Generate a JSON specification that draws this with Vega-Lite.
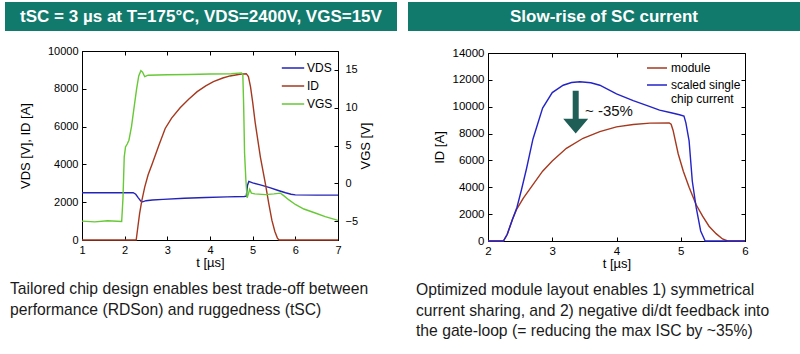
{
  "$schema": "https://vega.github.io/schema/vega-lite/v6.json",
  "background": "white",
  "padding": {"left": 5, "top": 2, "right": 0, "bottom": 0},
  "config": {
    "font": "Liberation Sans",
    "view": {"stroke": "#000", "strokeWidth": 1},
    "axis": {"grid": false, "domainColor": "#000", "tickColor": "#000", "labelColor": "#000", "titleColor": "#000", "titleFontWeight": "normal", "labelFlush": false, "tickSize": -4, "labelPadding": 8, "labelFontSize": 11, "titleFontSize": 13},
    "legend": {"labelColor": "#000"}
  },
  "datasets": {
    "left1": [
      {"t":1.0,"v":2500,"s":"VDS"},{"t":2.2,"v":2500,"s":"VDS"},{"t":2.26,"v":2420,"s":"VDS"},{"t":2.32,"v":2230,"s":"VDS"},{"t":2.38,"v":2060,"s":"VDS"},{"t":2.42,"v":2020,"s":"VDS"},{"t":2.5,"v":2080,"s":"VDS"},{"t":2.65,"v":2120,"s":"VDS"},{"t":2.9,"v":2150,"s":"VDS"},{"t":3.4,"v":2210,"s":"VDS"},{"t":3.9,"v":2250,"s":"VDS"},{"t":4.4,"v":2280,"s":"VDS"},{"t":4.8,"v":2300,"s":"VDS"},{"t":4.85,"v":2320,"s":"VDS"},{"t":4.88,"v":2900,"s":"VDS"},{"t":4.91,"v":3100,"s":"VDS"},{"t":5.0,"v":3020,"s":"VDS"},{"t":5.2,"v":2900,"s":"VDS"},{"t":5.4,"v":2770,"s":"VDS"},{"t":5.6,"v":2620,"s":"VDS"},{"t":5.77,"v":2500,"s":"VDS"},{"t":5.9,"v":2420,"s":"VDS"},{"t":6.0,"v":2385,"s":"VDS"},{"t":6.5,"v":2375,"s":"VDS"},{"t":7.0,"v":2375,"s":"VDS"},
      {"t":1.0,"v":0,"s":"ID"},{"t":2.27,"v":0,"s":"ID"},{"t":2.31,"v":700,"s":"ID"},{"t":2.35,"v":1400,"s":"ID"},{"t":2.4,"v":2060,"s":"ID"},{"t":2.47,"v":2800,"s":"ID"},{"t":2.55,"v":3450,"s":"ID"},{"t":2.64,"v":4000,"s":"ID"},{"t":2.8,"v":5000,"s":"ID"},{"t":2.95,"v":5900,"s":"ID"},{"t":3.1,"v":6450,"s":"ID"},{"t":3.3,"v":7000,"s":"ID"},{"t":3.5,"v":7450,"s":"ID"},{"t":3.7,"v":7850,"s":"ID"},{"t":3.9,"v":8150,"s":"ID"},{"t":4.08,"v":8380,"s":"ID"},{"t":4.3,"v":8570,"s":"ID"},{"t":4.47,"v":8680,"s":"ID"},{"t":4.7,"v":8770,"s":"ID"},{"t":4.85,"v":8800,"s":"ID"},{"t":4.9,"v":8650,"s":"ID"},{"t":4.95,"v":8100,"s":"ID"},{"t":5.0,"v":7300,"s":"ID"},{"t":5.06,"v":6200,"s":"ID"},{"t":5.12,"v":5300,"s":"ID"},{"t":5.18,"v":4400,"s":"ID"},{"t":5.3,"v":2950,"s":"ID"},{"t":5.38,"v":1900,"s":"ID"},{"t":5.45,"v":1050,"s":"ID"},{"t":5.52,"v":450,"s":"ID"},{"t":5.58,"v":100,"s":"ID"},{"t":5.62,"v":0,"s":"ID"},{"t":7.0,"v":0,"s":"ID"}
    ],
    "left2": [
      {"t":1.0,"v":-5,"s":"VGS"},{"t":1.3,"v":-5.1,"s":"VGS"},{"t":1.6,"v":-4.95,"s":"VGS"},{"t":1.93,"v":-5.05,"s":"VGS"},{"t":1.96,"v":-2,"s":"VGS"},{"t":1.99,"v":3.5,"s":"VGS"},{"t":2.02,"v":4.8,"s":"VGS"},{"t":2.06,"v":5.2,"s":"VGS"},{"t":2.1,"v":5.7,"s":"VGS"},{"t":2.16,"v":7.5,"s":"VGS"},{"t":2.22,"v":10,"s":"VGS"},{"t":2.28,"v":12.5,"s":"VGS"},{"t":2.33,"v":14.2,"s":"VGS"},{"t":2.38,"v":14.9,"s":"VGS"},{"t":2.42,"v":14.7,"s":"VGS"},{"t":2.47,"v":14.1,"s":"VGS"},{"t":2.55,"v":14.3,"s":"VGS"},{"t":3.0,"v":14.35,"s":"VGS"},{"t":3.5,"v":14.4,"s":"VGS"},{"t":4.0,"v":14.45,"s":"VGS"},{"t":4.5,"v":14.5,"s":"VGS"},{"t":4.74,"v":14.6,"s":"VGS"},{"t":4.77,"v":14.3,"s":"VGS"},{"t":4.79,"v":10,"s":"VGS"},{"t":4.81,"v":4,"s":"VGS"},{"t":4.84,"v":0.5,"s":"VGS"},{"t":4.87,"v":-1.9,"s":"VGS"},{"t":4.9,"v":-1.4,"s":"VGS"},{"t":4.93,"v":-0.8,"s":"VGS"},{"t":4.97,"v":-1.3,"s":"VGS"},{"t":5.05,"v":-1.4,"s":"VGS"},{"t":5.3,"v":-1.5,"s":"VGS"},{"t":5.5,"v":-1.4,"s":"VGS"},{"t":5.65,"v":-1.3,"s":"VGS"},{"t":5.72,"v":-1.6,"s":"VGS"},{"t":5.85,"v":-2.2,"s":"VGS"},{"t":6.0,"v":-2.8,"s":"VGS"},{"t":6.2,"v":-3.4,"s":"VGS"},{"t":6.45,"v":-3.9,"s":"VGS"},{"t":6.7,"v":-4.4,"s":"VGS"},{"t":7.0,"v":-4.9,"s":"VGS"}
    ],
    "right1": [
      {"t":2.0,"v":0,"s":"module"},{"t":2.24,"v":0,"s":"module"},{"t":2.3,"v":500,"s":"module"},{"t":2.38,"v":1600,"s":"module"},{"t":2.45,"v":2400,"s":"module"},{"t":2.55,"v":3200,"s":"module"},{"t":2.7,"v":4200,"s":"module"},{"t":2.85,"v":5200,"s":"module"},{"t":3.0,"v":5950,"s":"module"},{"t":3.22,"v":6900,"s":"module"},{"t":3.48,"v":7650,"s":"module"},{"t":3.74,"v":8150,"s":"module"},{"t":4.0,"v":8500,"s":"module"},{"t":4.26,"v":8680,"s":"module"},{"t":4.52,"v":8780,"s":"module"},{"t":4.82,"v":8800,"s":"module"},{"t":4.85,"v":8700,"s":"module"},{"t":4.88,"v":8250,"s":"module"},{"t":4.96,"v":6500,"s":"module"},{"t":5.04,"v":5200,"s":"module"},{"t":5.13,"v":4000,"s":"module"},{"t":5.24,"v":2700,"s":"module"},{"t":5.34,"v":1850,"s":"module"},{"t":5.44,"v":1100,"s":"module"},{"t":5.55,"v":550,"s":"module"},{"t":5.65,"v":150,"s":"module"},{"t":5.73,"v":0,"s":"module"},{"t":6.0,"v":0,"s":"module"},
      {"t":2.0,"v":0,"s":"scaled"},{"t":2.24,"v":0,"s":"scaled"},{"t":2.3,"v":500,"s":"scaled"},{"t":2.38,"v":1600,"s":"scaled"},{"t":2.45,"v":2500,"s":"scaled"},{"t":2.52,"v":3800,"s":"scaled"},{"t":2.6,"v":5400,"s":"scaled"},{"t":2.7,"v":7600,"s":"scaled"},{"t":2.85,"v":9900,"s":"scaled"},{"t":3.0,"v":11050,"s":"scaled"},{"t":3.17,"v":11600,"s":"scaled"},{"t":3.3,"v":11800,"s":"scaled"},{"t":3.43,"v":11860,"s":"scaled"},{"t":3.6,"v":11780,"s":"scaled"},{"t":3.74,"v":11600,"s":"scaled"},{"t":4.0,"v":10950,"s":"scaled"},{"t":4.26,"v":10450,"s":"scaled"},{"t":4.5,"v":10050,"s":"scaled"},{"t":4.67,"v":9750,"s":"scaled"},{"t":4.85,"v":9550,"s":"scaled"},{"t":4.98,"v":9400,"s":"scaled"},{"t":5.05,"v":9300,"s":"scaled"},{"t":5.08,"v":8800,"s":"scaled"},{"t":5.13,"v":7450,"s":"scaled"},{"t":5.18,"v":4450,"s":"scaled"},{"t":5.24,"v":2500,"s":"scaled"},{"t":5.31,"v":750,"s":"scaled"},{"t":5.38,"v":0,"s":"scaled"},{"t":6.0,"v":0,"s":"scaled"}
    ],
    "arrow": [{"t":3.365,"v":9600}],
    "note": [{"t":3.51,"v":9700,"label":"~ -35%"}]
  },
  "resolve": {"scale": {"color": "independent"}, "legend": {"color": "independent"}},
  "hconcat": [
    {
      "title": {"text": ["Tailored chip design enables best trade-off between", "performance (RDSon) and ruggedness (tSC)"], "orient": "bottom", "anchor": "start", "frame": "bounds", "fontSize": 15.7, "fontWeight": "normal", "color": "#1a1a1a", "lineHeight": 21, "offset": 12, "dx": 5},
      "spacing": 13,
      "resolve": {"scale": {"color": "independent"}, "legend": {"color": "independent"}},
      "vconcat": [
        {
          "width": 392, "height": 29,
          "view": {"fill": "#127a6c", "stroke": null},
          "data": {"values": [{"label": "tSC = 3 µs at T=175°C, VDS=2400V, VGS=15V"}]},
          "mark": {"type": "text", "color": "white", "fontSize": 17, "fontWeight": "bold", "baseline": "middle", "align": "center"},
          "encoding": {"text": {"field": "label"}}
        },
        {
          "spacing": 12,
          "resolve": {"scale": {"color": "independent"}, "legend": {"color": "independent"}},
          "hconcat": [
            {
              "width": 1, "height": 1,
              "view": {"stroke": null},
              "data": {"values": [{"e": ""}]},
              "mark": "text",
              "encoding": {"text": {"field": "e"}}
            },
            {
              "width": 256, "height": 189,
              "layer": [
                {
                  "data": {"name": "left1"},
                  "mark": {"type": "line", "strokeWidth": 1.4},
                  "encoding": {
                    "x": {"field": "t", "type": "quantitative", "scale": {"domain": [1, 7], "nice": false, "zero": false}, "axis": {"title": "t [µs]", "values": [1,2,3,4,5,6,7], "titlePadding": 1}},
                    "y": {"field": "v", "type": "quantitative", "scale": {"domain": [0, 10000], "nice": false}, "axis": {"title": "VDS [V], ID [A]", "values": [0,2000,4000,6000,8000,10000], "format": "d", "titlePadding": 15}},
                    "color": {"field": "s", "type": "nominal", "scale": {"domain": ["VDS", "ID", "VGS"], "range": ["#2323b8", "#a5391f", "#66c935"]}, "legend": {"orient": "top-right", "title": null, "symbolType": "stroke", "symbolSize": 500, "symbolStrokeWidth": 1.5, "labelFontSize": 12, "rowPadding": 0, "offset": 5, "padding": 0, "labelOffset": 2}}
                  }
                },
                {
                  "data": {"name": "left2"},
                  "mark": {"type": "line", "strokeWidth": 1.4},
                  "encoding": {
                    "x": {"field": "t", "type": "quantitative", "axis": {"orient": "top", "labels": false, "title": null, "domain": false, "values": [1,2,3,4,5,6,7]}},
                    "y": {"field": "v", "type": "quantitative", "scale": {"domain": [-7.5, 17.5], "nice": false, "zero": false}, "axis": {"orient": "right", "title": "VGS [V]", "titleAngle": 270, "titleBaseline": "top", "values": [-5,0,5,10,15], "labelPadding": 11, "titlePadding": 2}},
                    "color": {"field": "s", "type": "nominal"}
                  }
                }
              ],
              "resolve": {"scale": {"y": "independent"}, "axis": {"x": "independent"}}
            }
          ]
        }
      ]
    },
    {
      "title": {"text": ["Optimized module layout enables 1) symmetrical", "current sharing, and 2) negative di/dt feedback into", "the gate-loop (= reducing the max ISC by ~35%)"], "orient": "bottom", "anchor": "start", "frame": "bounds", "fontSize": 15.7, "fontWeight": "normal", "color": "#1a1a1a", "lineHeight": 20.5, "offset": 12, "dx": 8},
      "spacing": 15,
      "resolve": {"scale": {"color": "independent"}, "legend": {"color": "independent"}},
      "vconcat": [
        {
          "width": 392, "height": 29,
          "view": {"fill": "#127a6c", "stroke": null},
          "data": {"values": [{"label": "Slow-rise of SC current"}]},
          "mark": {"type": "text", "color": "white", "fontSize": 17, "fontWeight": "bold", "baseline": "middle", "align": "center"},
          "encoding": {"text": {"field": "label"}}
        },
        {
          "spacing": 23,
          "resolve": {"scale": {"color": "independent"}, "legend": {"color": "independent"}},
          "hconcat": [
            {
              "width": 1, "height": 1,
              "view": {"stroke": null},
              "data": {"values": [{"e": ""}]},
              "mark": "text",
              "encoding": {"text": {"field": "e"}}
            },
            {
              "width": 257, "height": 188,
              "layer": [
                {
                  "data": {"name": "right1"},
                  "mark": {"type": "line", "strokeWidth": 1.4},
                  "encoding": {
                    "x": {"field": "t", "type": "quantitative", "scale": {"domain": [2, 6], "nice": false, "zero": false}, "axis": {"title": "t [µs]", "values": [2,3,4,5,6], "titlePadding": 1, "labelFontSize": 11.5}},
                    "y": {"field": "v", "type": "quantitative", "scale": {"domain": [0, 14000], "nice": false}, "axis": {"title": "ID [A]", "values": [0,2000,4000,6000,8000,10000,12000,14000], "format": "d", "titlePadding": 6, "labelFontSize": 11.5}},
                    "color": {"field": "s", "type": "nominal", "scale": {"domain": ["module", "scaled"], "range": ["#a5391f", "#2323c8"]}, "legend": {"orient": "top-right", "title": null, "symbolType": "stroke", "symbolSize": 400, "symbolStrokeWidth": 1.5, "labelFontSize": 12, "labelLineHeight": 14, "rowPadding": 0, "offset": 4, "padding": 0, "labelOffset": 3, "labelExpr": "datum.value == 'scaled' ? ['scaled single', 'chip current'] : datum.value"}}
                  }
                },
                {
                  "data": {"name": "arrow"},
                  "mark": {"type": "point", "shape": "M-0.24,-1.7L0.24,-1.7L0.24,0.54L1,0.54L0,1.71L-1,0.54L-0.24,0.54Z", "size": 625, "filled": true, "color": "#1f5d57", "opacity": 1},
                  "encoding": {
                    "x": {"field": "t", "type": "quantitative", "axis": {"orient": "top", "labels": false, "title": null, "domain": false, "values": [2,3,4,5,6]}},
                    "y": {"field": "v", "type": "quantitative", "axis": {"orient": "right", "labels": false, "title": null, "domain": false, "values": [0,2000,4000,6000,8000,10000,12000,14000]}}
                  }
                },
                {
                  "data": {"name": "note"},
                  "mark": {"type": "text", "align": "left", "baseline": "middle", "fontSize": 15, "color": "#111"},
                  "encoding": {
                    "x": {"field": "t", "type": "quantitative", "axis": null},
                    "y": {"field": "v", "type": "quantitative", "axis": null},
                    "text": {"field": "label"}
                  }
                }
              ],
              "resolve": {"axis": {"x": "independent", "y": "independent"}}
            }
          ]
        }
      ]
    }
  ],
  "spacing": 11
}
